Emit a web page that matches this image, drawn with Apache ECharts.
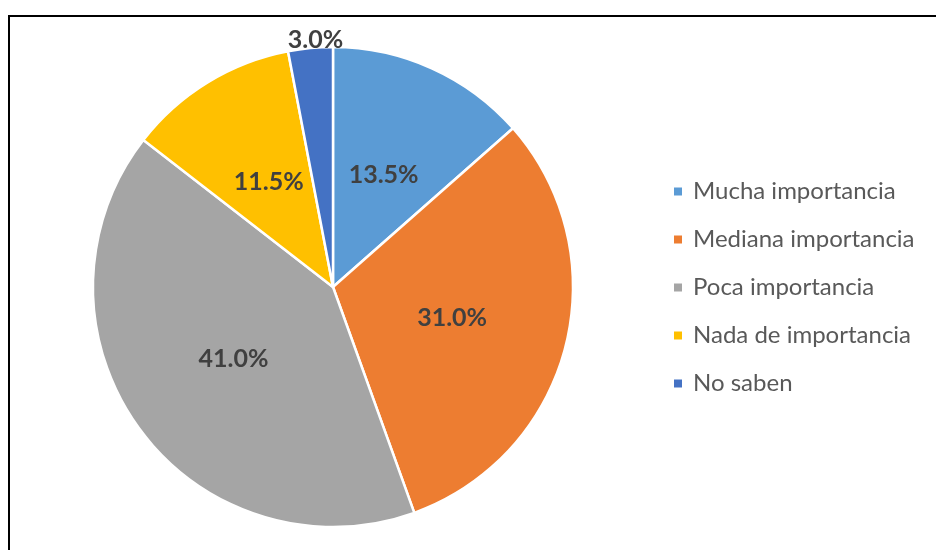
<!DOCTYPE html>
<html>
<head>
<meta charset="utf-8">
<script src="https://cdn.jsdelivr.net/npm/echarts@6/dist/echarts.min.js"></script>
<style>
html, body { margin: 0; padding: 0; background: #fff; }
#chart { width: 936px; height: 550px; }
</style>
</head>
<body>
<div id="chart"></div>
<script>
// categorias y valores (%)
var categories = ['Mucha importancia', 'Mediana importancia', 'Poca importancia', 'Nada de importancia', 'No saben'];
var values = [13.5, 31.0, 41.0, 11.5, 3.0];
var colors = ['#5B9BD5', '#ED7D31', '#A5A5A5', '#FFC000', '#4472C4'];

var dom = document.getElementById('chart');
var myChart = echarts.init(dom);

var data = [];
for (var i = 0; i < categories.length; i++) {
	data[i] = {
		value : values[i],
		name : categories[i],
		itemStyle : { color : colors[i] }
	};
}
// la etiqueta pequeña va fuera del sector
data[4].label = { position : 'outside', distanceToLabelLine : 0 };
data[4].labelLine = { show : false, length : 0, length2 : 0 };

var option = {
	backgroundColor : '#fff',
	animation : false,
	graphic : [{
		type : 'rect',
		shape : { x : 9, y : 16, width : 1000, height : 600 },
		style : { fill : 'none', stroke : '#000', lineWidth : 2 },
		silent : true
	}],
	legend : {
		orient : 'vertical',
		left : 667,
		top : 174,
		itemWidth : 10,
		itemHeight : 10,
		itemGap : 23,
		icon : 'rect',
		textStyle : {
			fontFamily : 'Lato',
			fontSize : 24,
			color : '#595959',
			lineHeight : 25,
			padding : [0, 0, 0, 5]
		},
		data : categories
	},
	series : [{
		type : 'pie',
		center : [333, 287],
		radius : 240,
		startAngle : 90,
		clockwise : true,
		itemStyle : { borderColor : '#fff', borderWidth : 2.5 },
		label : {
			show : true,
			position : 'inside',
			formatter : function(p) { return p.value.toFixed(1) + '%'; },
			fontFamily : 'Lato',
			fontWeight : 'bold',
			fontSize : 25,
			color : '#404040'
		},
		labelLayout : function(params) {
			if (params.dataIndex === 4) {
				return { align : 'center', dx : 5, dy : -8 };
			}
		},
		emphasis : { disabled : true },
		data : data
	}]
};
myChart.setOption(option);
</script>
</body>
</html>
